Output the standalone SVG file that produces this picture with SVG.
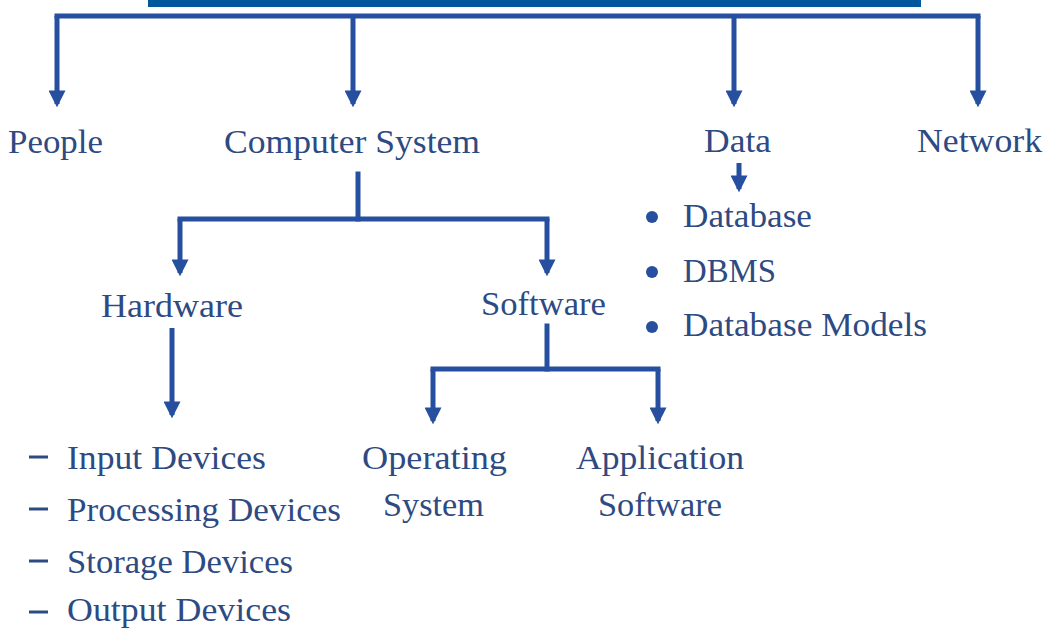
<svg xmlns="http://www.w3.org/2000/svg" width="1046" height="628" viewBox="0 0 1046 628">
  <defs>
    <style>
      .lbl { font-family: "Liberation Serif", "DejaVu Serif", serif; font-size: 34px; fill: #2e4a82; }
      .wire { fill: none; stroke: #26509f; stroke-width: 5; stroke-linejoin: miter; stroke-linecap: square; }
      .arrow { fill: none; stroke: #26509f; stroke-width: 5; stroke-linecap: butt; }
      .dash { stroke: #2e4a82; stroke-width: 3; }
    </style>
    <marker id="head" viewBox="0 0 10 10" refX="8" refY="5" markerWidth="3.4" markerHeight="3.4" orient="auto" markerUnits="strokeWidth">
      <path d="M0,0 L10,5 L0,10 z" fill="#26509f"/>
    </marker>
  </defs>
  <rect width="1046" height="628" fill="#ffffff"/>

  <!-- title bar -->
  <rect id="banner" x="148" y="0" width="773" height="7" fill="#00579c"/>

  <g id="connectors">
    <!-- root fan-out -->
    <path class="wire" d="M57,16 L978,16"/>
    <path class="arrow" d="M57,16 L57,104" marker-end="url(#head)"/>
    <path class="arrow" d="M353,16 L353,104" marker-end="url(#head)"/>
    <path class="arrow" d="M734,16 L734,104" marker-end="url(#head)"/>
    <path class="arrow" d="M978,16 L978,104" marker-end="url(#head)"/>
    <!-- computer system split -->
    <path class="wire" d="M358,174 L358,219"/>
    <path class="wire" d="M180,219 L547,219"/>
    <path class="arrow" d="M180,219 L180,273" marker-end="url(#head)"/>
    <path class="arrow" d="M547,219 L547,273" marker-end="url(#head)"/>
    <!-- hardware -->
    <path class="arrow" d="M172,328 L172,415" marker-end="url(#head)"/>
    <!-- software split -->
    <path class="wire" d="M547,326 L547,369"/>
    <path class="wire" d="M433,369 L658,369"/>
    <path class="arrow" d="M433,369 L433,421" marker-end="url(#head)"/>
    <path class="arrow" d="M658,369 L658,421" marker-end="url(#head)"/>
    <!-- data -->
    <path class="arrow" d="M739,163 L739,189" marker-end="url(#head)"/>
  </g>

  <g id="people"><text class="lbl" x="8" y="153" textLength="95" lengthAdjust="spacingAndGlyphs">People</text></g>
  <g id="computer-system"><text class="lbl" x="224" y="153" textLength="256" lengthAdjust="spacingAndGlyphs">Computer System</text></g>
  <g id="data"><text class="lbl" x="704" y="152" textLength="67" lengthAdjust="spacingAndGlyphs">Data</text></g>
  <g id="network"><text class="lbl" x="917" y="152" textLength="125" lengthAdjust="spacingAndGlyphs">Network</text></g>

  <g id="hardware"><text class="lbl" x="101" y="317" textLength="142" lengthAdjust="spacingAndGlyphs">Hardware</text></g>
  <g id="software"><text class="lbl" x="481" y="315" textLength="125" lengthAdjust="spacingAndGlyphs">Software</text></g>

  <g id="operating-system">
    <text class="lbl" x="362" y="469" textLength="145" lengthAdjust="spacingAndGlyphs">Operating</text>
    <text class="lbl" x="383" y="516" textLength="101" lengthAdjust="spacingAndGlyphs">System</text>
  </g>
  <g id="application-software">
    <text class="lbl" x="576" y="469" textLength="168" lengthAdjust="spacingAndGlyphs">Application</text>
    <text class="lbl" x="598" y="516" textLength="124" lengthAdjust="spacingAndGlyphs">Software</text>
  </g>

  <g id="hardware-devices">
    <line class="dash" x1="29" y1="457" x2="48" y2="457"/>
    <text class="lbl" x="67" y="469" textLength="199" lengthAdjust="spacingAndGlyphs">Input Devices</text>
    <line class="dash" x1="29" y1="509" x2="48" y2="509"/>
    <text class="lbl" x="67" y="521" textLength="274" lengthAdjust="spacingAndGlyphs">Processing Devices</text>
    <line class="dash" x1="29" y1="561" x2="48" y2="561"/>
    <text class="lbl" x="67" y="573" textLength="226" lengthAdjust="spacingAndGlyphs">Storage Devices</text>
    <line class="dash" x1="29" y1="612" x2="48" y2="612"/>
    <text class="lbl" x="67" y="621" textLength="224" lengthAdjust="spacingAndGlyphs">Output Devices</text>
  </g>

  <g id="data-items">
    <circle cx="652" cy="217" r="6" fill="#26509f"/>
    <text class="lbl" x="683" y="227" textLength="129" lengthAdjust="spacingAndGlyphs">Database</text>
    <circle cx="652" cy="272" r="6" fill="#26509f"/>
    <text class="lbl" x="683" y="282" textLength="93" lengthAdjust="spacingAndGlyphs">DBMS</text>
    <circle cx="652" cy="327" r="6" fill="#26509f"/>
    <text class="lbl" x="683" y="336" textLength="244" lengthAdjust="spacingAndGlyphs">Database Models</text>
  </g>
</svg>
